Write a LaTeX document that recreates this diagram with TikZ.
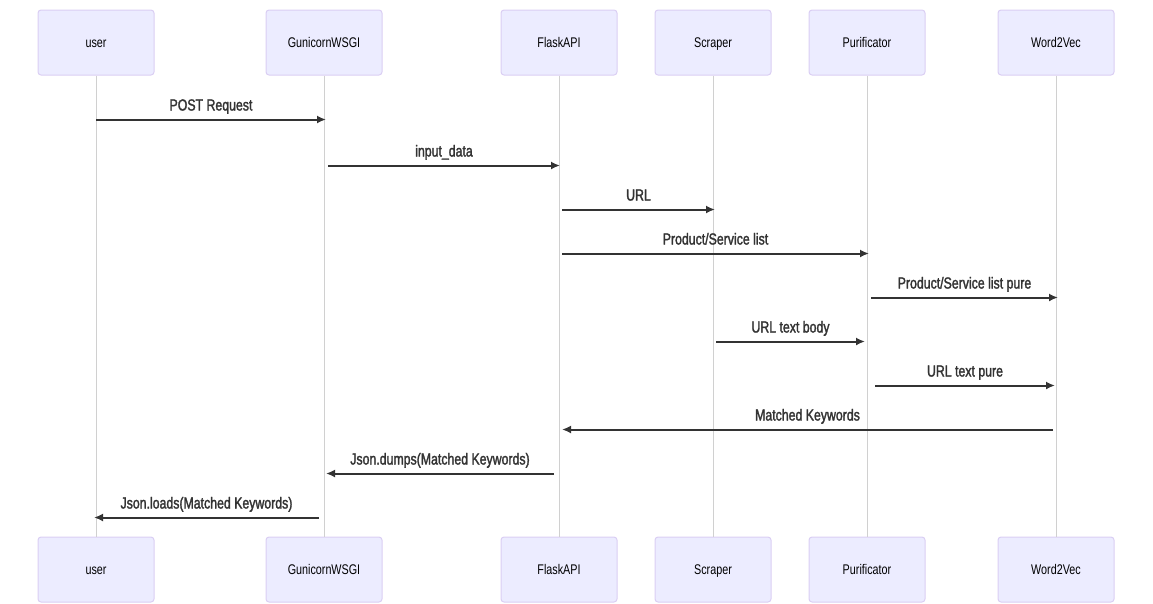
\documentclass[tikz,border=0pt]{standalone}
\usepackage{fontspec}
\usepackage{tikz}
\usetikzlibrary{arrows.meta}
\newfontfamily\actfont[FakeStretch=0.77]{Liberation Sans}
\newfontfamily\msgfont[FakeStretch=0.77,RawFeature={embolden=1.8}]{Liberation Sans}
\definecolor{actfill}{HTML}{ECECFF}
\definecolor{actline}{HTML}{DACEF3}
\definecolor{lifegray}{HTML}{D0D0D0}
\definecolor{msgline}{HTML}{333333}

\begin{document}
\begin{tikzpicture}
                        [
                            x=1pt, y=-1pt,
                            actor/.style = {draw=actline, fill=actfill, shape=rectangle, rounded corners=3pt, minimum height=65pt, minimum width=116pt, line width=1pt, text height=11pt, text depth=2pt, font=\actfont\fontsize{14pt}{16pt}\selectfont, text=black},
                            life/.style = {draw=lifegray, line width=0.8pt},
                            msg/.style = {draw=msgline, line width=2pt, -{Latex[length=9pt,width=8pt]}},
                            lbl/.style = {midway, anchor=base, yshift=9pt, inner sep=0pt, text=msgline, font=\msgfont\fontsize{16pt}{18pt}\selectfont},
                        ]

                        \useasboundingbox (0,0) rectangle (1153,603);

                        \node[actor] (0t) at (96,42.5)    {user};
                        \node[actor] (0b) at (96,569.5)   {user};

                        \node[actor] (1t) at (324,42.5)   {GunicornWSGI};
                        \node[actor] (1b) at (324,569.5)  {GunicornWSGI};

                        \node[actor] (2t) at (559,42.5)   {FlaskAPI};
                        \node[actor] (2b) at (559,569.5)  {FlaskAPI};

                        \node[actor] (3t) at (713,42.5)   {Scraper};
                        \node[actor] (3b) at (713,569.5)  {Scraper};

                        \node[actor] (4t) at (867,42.5)   {Purificator};
                        \node[actor] (4b) at (867,569.5)  {Purificator};

                        \node[actor] (5t) at (1056,42.5)  {Word2Vec};
                        \node[actor] (5b) at (1056,569.5) {Word2Vec};

                        \draw [life] (0t.south) -- (0b.north);
                        \draw [life] (1t.south) -- (1b.north);
                        \draw [life] (2t.south) -- (2b.north);
                        \draw [life] (3t.south) -- (3b.north);
                        \draw [life] (4t.south) -- (4b.north);
                        \draw [life] (5t.south) -- (5b.north);

                        \draw [msg] ([yshift=-44pt]0t.south) -- ([xshift=2pt,yshift=-44pt]1t.south) node[lbl] {POST Request};
                        \draw [msg] ([xshift=4pt,yshift=-90pt]1t.south) -- ([xshift=1pt,yshift=-90pt]2t.south) node[lbl] {input\_data};
                        \draw [msg] ([xshift=3pt,yshift=-134pt]2t.south) -- ([xshift=2pt,yshift=-134pt]3t.south) node[lbl] {URL};
                        \draw [msg] ([xshift=3pt,yshift=-178pt]2t.south) -- ([xshift=2pt,yshift=-178pt]4t.south) node[lbl] {Product/Service list};
                        \draw [msg] ([xshift=4pt,yshift=-222pt]4t.south) -- ([xshift=2pt,yshift=-222pt]5t.south) node[lbl] {Product/Service list pure};
                        \draw [msg] ([xshift=3pt,yshift=-266pt]3t.south) -- ([xshift=-2pt,yshift=-266pt]4t.south) node[lbl] {URL text body};
                        \draw [msg] ([xshift=8pt,yshift=-310pt]4t.south) -- ([xshift=-1pt,yshift=-310pt]5t.south) node[lbl] {URL text pure};

                        \draw [msg] ([xshift=-3pt,yshift=-354pt]5t.south) -- ([xshift=3pt,yshift=-354pt]2t.south) node[lbl] {Matched Keywords};
                        \draw [msg] ([xshift=-5pt,yshift=-398pt]2t.south) -- ([xshift=2pt,yshift=-398pt]1t.south) node[lbl] {Json.dumps(Matched Keywords)};
                        \draw [msg] ([xshift=-5pt,yshift=-442pt]1t.south) -- ([xshift=-2pt,yshift=-442pt]0t.south) node[lbl] {Json.loads(Matched Keywords)};

                    \end{tikzpicture}
\end{document}
